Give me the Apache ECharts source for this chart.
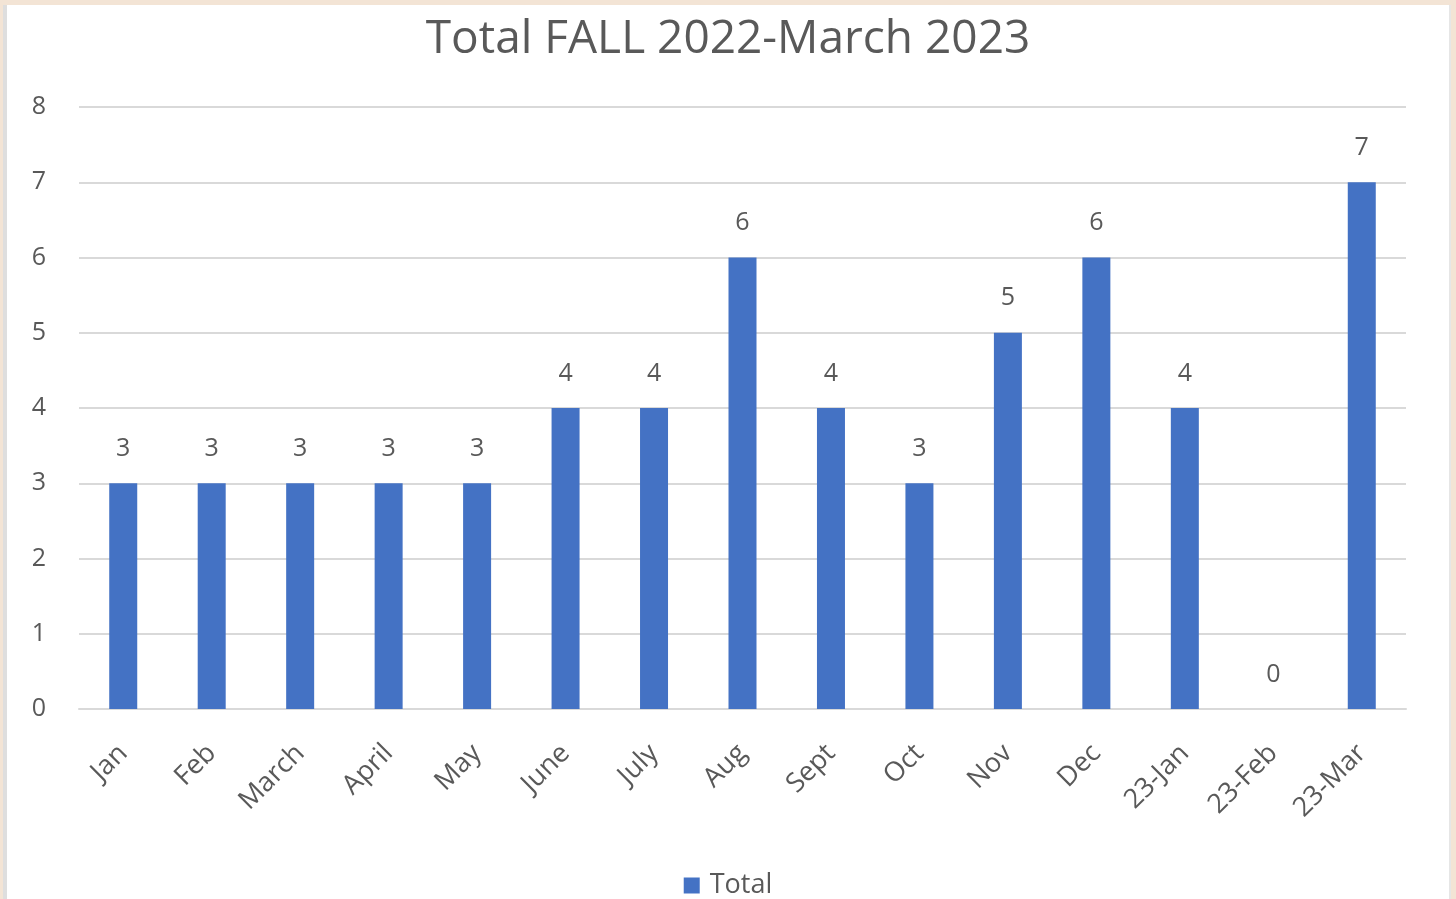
<!DOCTYPE html>
<html>
<head>
<meta charset="utf-8">
<script src="https://cdn.jsdelivr.net/npm/echarts@6/dist/echarts.min.js"></script>
<style>
  html, body { margin: 0; padding: 0; background: #f3e4d5; }
  #frame {
    position: absolute; left: 3px; top: 5px; width: 1442px; height: 900px;
    background: #fff; border-left: 4px solid #dedede; border-right: 2px solid #e6e6e6;
  }
  #chart { position: absolute; left: 0; top: 0; width: 1456px; height: 899px; }
</style>
</head>
<body>
<div id="frame"></div>
<div id="chart"></div>
<script>
// months shown on the x axis
const months = ['Jan', 'Feb', 'March', 'April', 'May', 'June', 'July', 'Aug', 'Sept', 'Oct', 'Nov', 'Dec', '23-Jan', '23-Feb', '23-Mar']
const totals = [3, 3, 3, 3, 3, 4, 4, 6, 4, 3, 5, 6, 4, 0, 7]
const yTicks = [0, 1, 2, 3, 4, 5, 6, 7, 8]

const font = '"Open Sans", "Noto Sans", sans-serif'
const grey = '#595959'

const chart = echarts.init(document.getElementById('chart'))
chart.setOption({
  backgroundColor: 'transparent',
  textStyle: { fontFamily: font },
  title: {
    text: 'Total FALL 2022-March 2023',
    left: 'center',
    top: 12,
    textStyle: { fontFamily: font, fontSize: 46, fontWeight: 'normal', color: grey }
  },
  legend: {
    bottom: -5,
    left: 'center',
    icon: 'rect',
    itemWidth: 16,
    itemHeight: 16,
    itemGap: 10,
    textStyle: { fontFamily: font, fontSize: 27, color: grey, padding: [0, 0, 0, 5] },
    data: ['Total']
  },
  grid: { left: 79, right: 50, top: 107, bottom: 190 },
  xAxis: {
    type: 'category',
    data: months,
    axisLine: { lineStyle: { color: '#d9d9d9', width: 2 } },
    axisTick: { show: false },
    axisLabel: { rotate: 45, margin: 40, fontSize: 27, color: grey, fontFamily: font, interval: 0 }
  },
  yAxis: {
    type: 'value',
    min: yTicks[0],
    max: yTicks[yTicks.length - 1],
    interval: 1,
    axisLine: { show: false },
    axisTick: { show: false },
    splitLine: { lineStyle: { color: '#d9d9d9', width: 2 } },
    axisLabel: { margin: 33, fontSize: 25, color: grey, fontFamily: font }
  },
  series: [{
    name: 'Total',
    type: 'bar',
    data: totals,
    barWidth: 28,
    itemStyle: { color: '#4472c4' },
    label: { show: true, position: 'top', distance: 22, fontSize: 25, color: grey, fontFamily: font }
  }]
})
</script>
</body>
</html>
